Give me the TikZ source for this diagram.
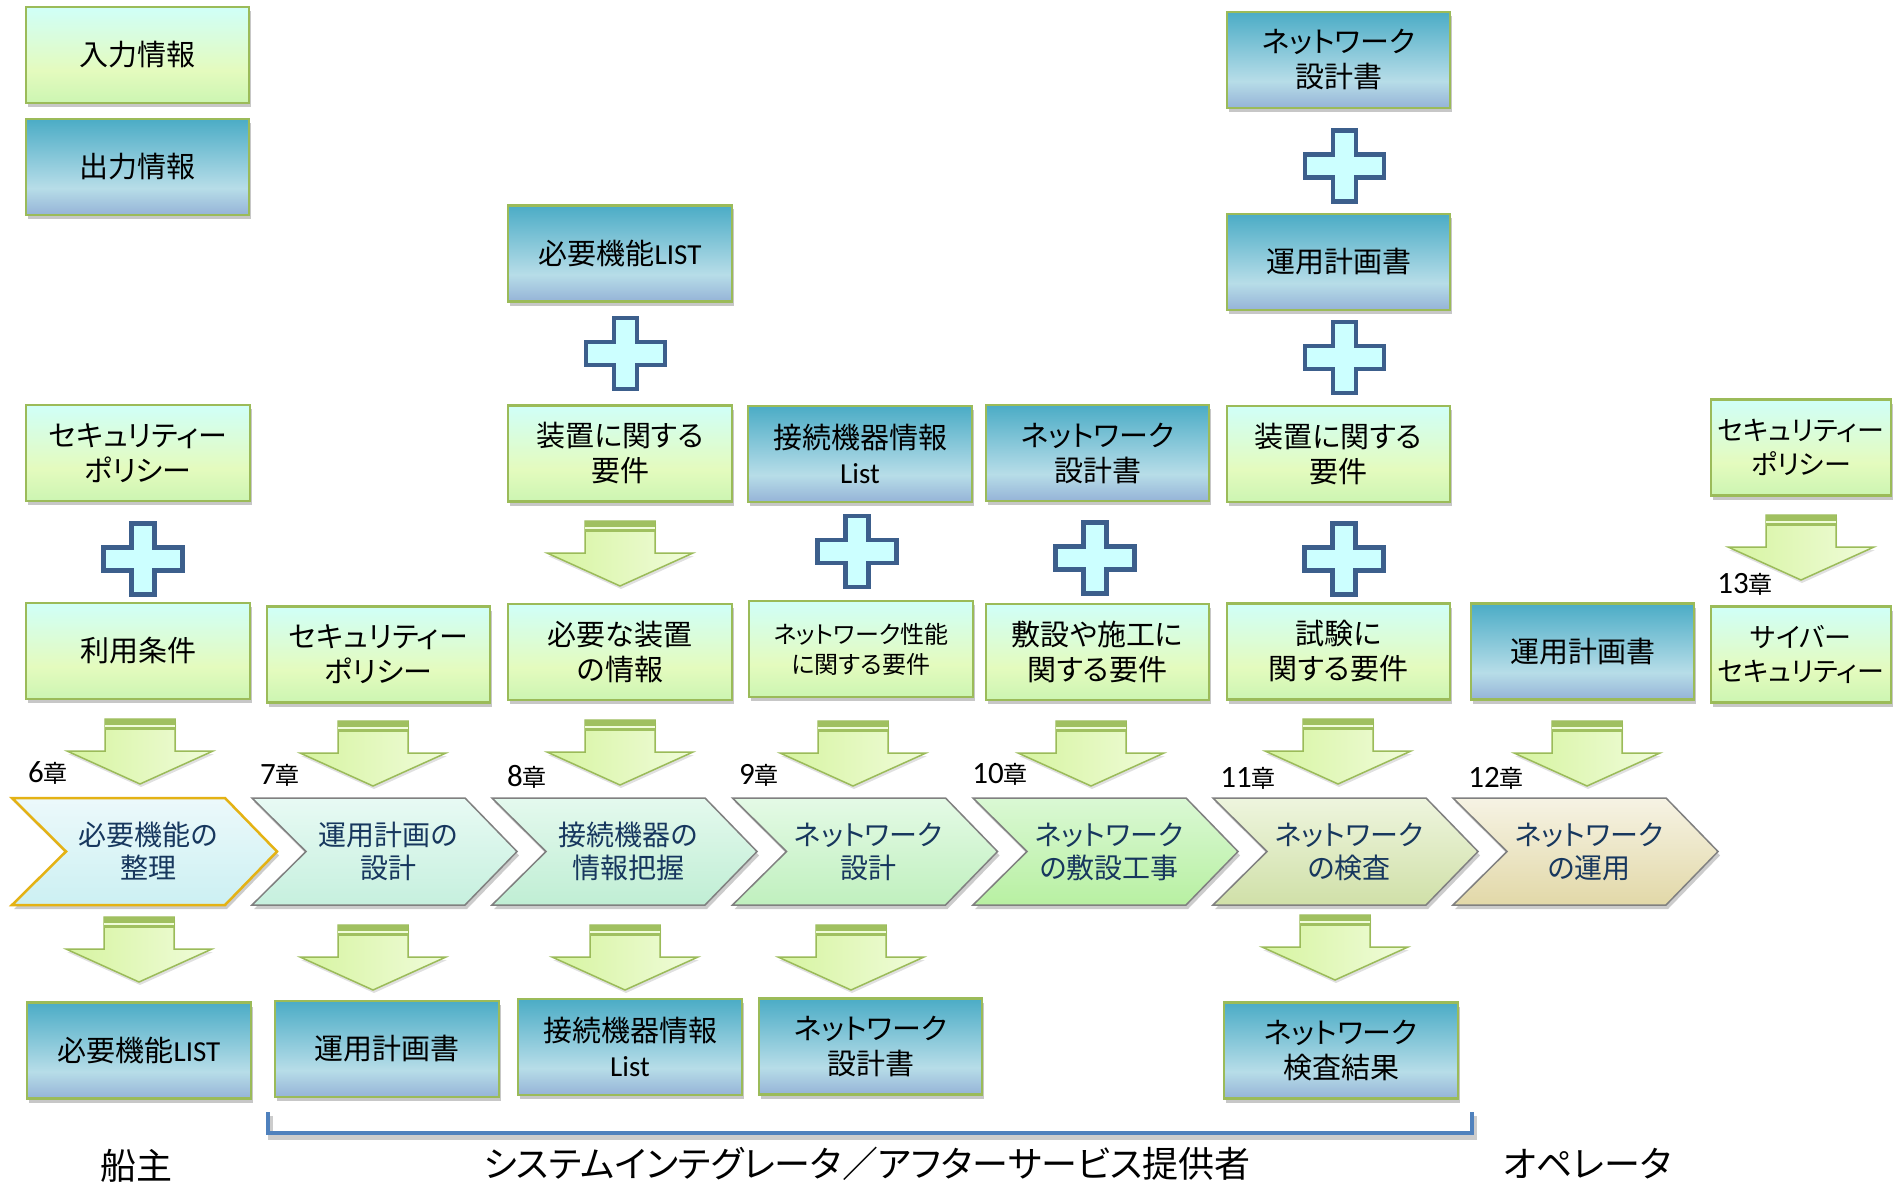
\documentclass[tikz,border=0pt]{standalone}
\usepackage{fontspec}
\setmainfont{Noto Sans CJK JP}[RawFeature=+palt]
\newfontfamily\lat{Carlito}
\usetikzlibrary{shadows}

\definecolor{bordergreen}{RGB}{155,187,89}
\definecolor{gT}{RGB}{208,255,248}
\definecolor{gM}{RGB}{228,251,190}
\definecolor{gB}{RGB}{204,245,178}
\definecolor{bT}{RGB}{75,172,198}
\definecolor{bM}{RGB}{183,221,232}
\definecolor{bB}{RGB}{149,179,215}
\definecolor{plusblue}{RGB}{60,95,140}
\definecolor{pluscyan}{RGB}{204,255,255}
\definecolor{navy}{RGB}{23,55,94}
\definecolor{bracketblue}{RGB}{79,129,189}
\definecolor{arrL}{RGB}{214,244,160}
\definecolor{arrR}{RGB}{240,252,218}
\definecolor{arrBand}{RGB}{160,192,96}
\definecolor{chevgray}{RGB}{128,128,128}
\definecolor{chevgold}{RGB}{228,178,20}
\definecolor{cAt}{RGB}{236,249,251}\definecolor{cAb}{RGB}{204,240,242}
\definecolor{cBt}{RGB}{232,250,244}\definecolor{cBb}{RGB}{198,240,222}
\definecolor{cCt}{RGB}{228,249,238}\definecolor{cCb}{RGB}{192,238,212}
\definecolor{cDt}{RGB}{228,250,230}\definecolor{cDb}{RGB}{192,240,190}
\definecolor{cEt}{RGB}{218,248,212}\definecolor{cEb}{RGB}{184,240,162}
\definecolor{cFt}{RGB}{238,245,222}\definecolor{cFb}{RGB}{208,224,168}
\definecolor{cGt}{RGB}{246,243,228}\definecolor{cGb}{RGB}{226,216,168}

\pgfdeclareverticalshading{ingrad}{100bp}{color(0bp)=(gB); color(25bp)=(gB); color(42bp)=(gM); color(75bp)=(gT); color(100bp)=(gT)}
\pgfdeclareverticalshading{outgrad}{100bp}{color(0bp)=(bB); color(25bp)=(bB); color(39bp)=(bM); color(75bp)=(bT); color(100bp)=(bT)}

\newcommand\latlist{{\lat\fontsize{29}{30}\selectfont List}}
\newcommand\chapnum[1]{{\lat\fontsize{31}{31}\selectfont #1}}

\tikzset{
  boxbase/.style={draw=bordergreen, line width=2.5pt, minimum width=224pt, minimum height=96pt,
    align=center, inner sep=0pt, font=\fontsize{29}{35}\selectfont, text=black,
    drop shadow={shadow xshift=2pt, shadow yshift=-4pt, fill=black, opacity=0.22}},
  inbox/.style={boxbase, shade, shading=ingrad},
  outbox/.style={boxbase, shade, shading=outgrad},
  chevtext/.style={align=center, inner sep=0pt, font=\fontsize{28}{33}\selectfont, text=navy},
  chap/.style={font=\fontsize{24}{28}\selectfont, text=black, inner sep=0pt},
  party/.style={font=\fontsize{36}{40}\selectfont, inner sep=0pt},
  plussign/.pic={
    \draw[draw=plusblue, fill=pluscyan, line width=4.5pt, line join=miter]
      (-11.5,-35.5) -- (11.5,-35.5) -- (11.5,-11.5) -- (39.5,-11.5) -- (39.5,11.5)
      -- (11.5,11.5) -- (11.5,35.5) -- (-11.5,35.5) -- (-11.5,11.5) -- (-39.5,11.5)
      -- (-39.5,-11.5) -- (-11.5,-11.5) -- cycle;
  },
  dnarrow/.pic={
    \draw[draw=bordergreen, line width=1.5pt, line join=miter, left color=arrL, right color=arrR,
      drop shadow={shadow xshift=1pt, shadow yshift=-3pt, fill=black, opacity=0.12}]
      (-35,0) -- (35,0) -- (35,32) -- (73,32) -- (0,65) -- (-73,32) -- (-35,32) -- cycle;
    \fill[arrBand] (-35,0) rectangle (35,11);
    \fill[arrR] (-35,6) rectangle (35,8);
  }
}

\newcommand\chev[5]{%
  \draw[draw=#4, line width=#5, line join=miter, top color=#2, bottom color=#3,
    drop shadow={shadow xshift=2pt, shadow yshift=-4pt, fill=black, opacity=0.2}]
    (#1,798) -- (#1+213,798) -- (#1+265,851.5) -- (#1+213,905) -- (#1,905) -- (#1+54,851.5) -- cycle;}

\begin{document}
\begin{tikzpicture}[x=1pt,y=-1pt]
\fill[white] (0,0) rectangle (1895,1185);
\useasboundingbox (0,0) rectangle (1895,1185);

% legend
\node[inbox, minimum width=223pt] (legin) at (137.5,55) {入力情報};
\node[outbox, minimum width=223pt] (legout) at (137.5,167) {出力情報};

% top column boxes
\node[outbox] (needlistA) at (620,253.5) {必要機能{\lat LIST}};
\node[outbox, minimum width=223pt] (nwdesA) at (1338.5,60) {ネットワーク\\設計書};
\node[outbox, minimum width=223pt] (opplanA) at (1338.5,262) {運用計画書};

% plus signs
\pic (plA) at (625.5,353.5) {plussign};
\pic (plB) at (1344.5,166) {plussign};
\pic (plC) at (1344.5,357.5) {plussign};
\pic (plD) at (143,559) {plussign};
\pic (plE) at (857,551.5) {plussign};
\pic (plF) at (1095,558) {plussign};
\pic (plG) at (1344,559) {plussign};

% row 2
\node[inbox] (secpolA) at (138,453) {セキュリティー\\ポリシー};
\node[inbox] (devreqA) at (620,453.5) {装置に関する\\要件};
\node[outbox] (conninfoA) at (860,454) {接続機器情報\\\latlist};
\node[outbox, minimum width=223pt] (nwdesB) at (1097.5,453) {ネットワーク\\設計書};
\node[inbox, minimum width=223pt] (devreqB) at (1338.5,454) {装置に関する\\要件};
\node[inbox, minimum width=180pt, font=\fontsize{27}{34}\selectfont] (secpolC) at (1801,447.5) {セキュリティー\\ポリシー};

% row 3
\node[inbox] (usecond) at (138,651) {利用条件};
\node[inbox, minimum width=223pt] (secpolB) at (378.5,654.5) {セキュリティー\\ポリシー};
\node[inbox] (devinfo) at (620,652) {必要な装置\\の情報};
\node[inbox, font=\fontsize{24}{30}\selectfont] (perfreq) at (861,649) {ネットワーク性能\\に関する要件};
\node[inbox, minimum width=223pt] (instreq) at (1097.5,652) {敷設や施工に\\関する要件};
\node[inbox, minimum width=223pt] (testreq) at (1338.5,651.5) {試験に\\関する要件};
\node[outbox, minimum width=223pt] (opplanB) at (1582.5,651.5) {運用計画書};
\node[inbox, minimum width=180pt, font=\fontsize{27}{34}\selectfont] (cyber) at (1801,654.5) {サイバー\\セキュリティー};

% arrows
\pic (arU1) at (620,521) {dnarrow};
\pic (arU2) at (1801,515) {dnarrow};
\pic (arM1) at (140,719) {dnarrow};
\pic (arM2) at (373,721) {dnarrow};
\pic (arM3) at (620,720) {dnarrow};
\pic (arM4) at (853,721) {dnarrow};
\pic (arM5) at (1091,721) {dnarrow};
\pic (arM6) at (1338,719) {dnarrow};
\pic (arM7) at (1587,721) {dnarrow};
\pic (arL1) at (139,917) {dnarrow};
\pic (arL2) at (373,925) {dnarrow};
\pic (arL3) at (625,925) {dnarrow};
\pic (arL4) at (851,925) {dnarrow};
\pic (arL5) at (1335,915) {dnarrow};

% chapter labels
\node[chap] (k6) at (48,773) {\chapnum{6}章};
\node[chap] (k7) at (280,775) {\chapnum{7}章};
\node[chap] (k8) at (527,777) {\chapnum{8}章};
\node[chap] (k9) at (759,775) {\chapnum{9}章};
\node[chap] (k10) at (1000,774) {\chapnum{10}章};
\node[chap] (k11) at (1248,778) {\chapnum{11}章};
\node[chap] (k12) at (1496,778) {\chapnum{12}章};
\node[chap] (k13) at (1745,584) {\chapnum{13}章};

% chevrons
\chev{12}{cAt}{cAb}{chevgold}{2.5pt}
\chev{252}{cBt}{cBb}{chevgray}{1.5pt}
\chev{492}{cCt}{cCb}{chevgray}{1.5pt}
\chev{732.5}{cDt}{cDb}{chevgray}{1.5pt}
\chev{973}{cEt}{cEb}{chevgray}{1.5pt}
\chev{1213}{cFt}{cFb}{chevgray}{1.5pt}
\chev{1453}{cGt}{cGb}{chevgray}{1.5pt}
\node[chevtext] (ch1) at (148,851.5) {必要機能の\\整理};
\node[chevtext] (ch2) at (388,851.5) {運用計画の\\設計};
\node[chevtext] (ch3) at (628,851.5) {接続機器の\\情報把握};
\node[chevtext] (ch4) at (868.5,851.5) {ネットワーク\\設計};
\node[chevtext] (ch5) at (1109,851.5) {ネットワーク\\の敷設工事};
\node[chevtext] (ch6) at (1349,851.5) {ネットワーク\\の検査};
\node[chevtext] (ch7) at (1589,851.5) {ネットワーク\\の運用};

% outputs
\node[outbox] (outA) at (139,1050.5) {必要機能{\lat LIST}};
\node[outbox] (outB) at (387,1049) {運用計画書};
\node[outbox] (outC) at (630,1047) {接続機器情報\\\latlist};
\node[outbox, minimum width=223pt] (outD) at (870.5,1046.5) {ネットワーク\\設計書};
\node[outbox, minimum width=234pt] (outE) at (1341,1050.5) {ネットワーク\\検査結果};

% bracket
\coordinate (brL) at (268,1112);
\coordinate (brR) at (1472,1112);
\draw[black, opacity=0.2, line width=5pt] (brL) ++(2,4) -- ++(0,21) -| ([shift={(2,4)}]brR);
\draw[bracketblue, line width=4pt] (brL) -- ++(0,21) -| (brR);

% parties
\node[party] (owner) at (136,1166) {船主};
\node[party] (integrator) at (867,1164) {システムインテグレータ／アフターサービス提供者};
\node[party] (operator) at (1587,1164) {オペレータ};
\end{tikzpicture}
\end{document}
